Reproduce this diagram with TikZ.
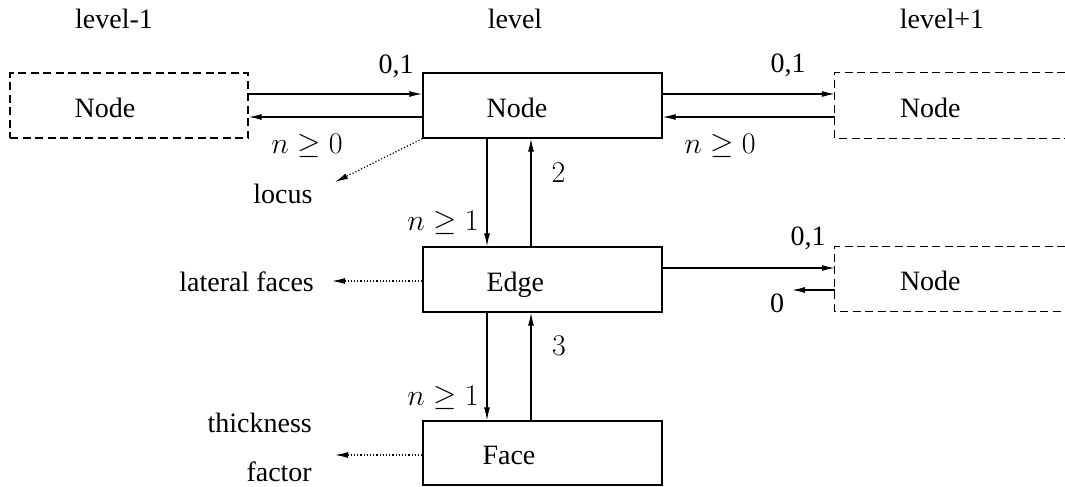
\RequirePackage{fix-cm}
\documentclass[tikz,border=0pt]{standalone}
\usepackage{fontspec}
\setmainfont{Liberation Serif}
\usetikzlibrary{arrows.meta}
\begin{document}
\begin{tikzpicture}[x=1pt,y=-1pt,
  every node/.style={font=\fontsize{28}{34}\selectfont},
  box/.style={draw, line width=1.3pt, minimum width=239pt, minimum height=65pt, inner sep=0pt},
  dbox/.style={box, dash pattern=on 8pt off 4.5pt},
  openbox/.style={minimum width=230pt, minimum height=65pt, inner sep=0pt},
  opendash/.style={line width=1.3pt, dash pattern=on 8pt off 4.5pt},
  boxtext/.style 2 args={label={[anchor=base west, xshift=#1, yshift=-11.5pt, inner sep=0pt]west:#2}},
  arr/.style={-{Latex[length=13pt,width=6pt]}, line width=1.2pt},
  dotarr/.style={arr, dotted},
  lbl/.style={anchor=base, inner sep=0pt},
  mlbl/.style={lbl, font=\fontsize{30}{36}\selectfont}
]
\useasboundingbox (0,0) rectangle (1065,487);

% headers
\node[lbl] (h1) at (114,29) {level-1};
\node[lbl] (h2) at (515,29) {level};
\node[lbl] (h3) at (942,29) {level+1};

% boxes
\node[dbox, minimum width=238pt, boxtext={65pt}{Node}] (L) at (129,105.5) {};
\node[box, boxtext={64pt}{Node}] (N) at (542.5,105.5) {};
\node[openbox, boxtext={65pt}{Node}] (R1) at (950,105.5) {};
\draw[opendash] (R1.north east) -- (R1.north west) -- (R1.south west) -- (R1.south east);
\node[box, boxtext={64pt}{Edge}] (E) at (542.5,279.5) {};
\node[openbox, minimum height=64pt, boxtext={65pt}{Node}] (R2) at (950,279) {};
\draw[opendash] (R2.north east) -- (R2.north west) -- (R2.south west) -- (R2.south east);
\node[box, minimum height=64pt, boxtext={60pt}{Face}] (F) at (542.5,453) {};

% horizontal arrows
\draw[arr] ([yshift=11.5pt]L.east) -- ([yshift=11.5pt]N.west);
\draw[arr] ([yshift=-11.5pt]N.west) -- ([yshift=-11.5pt]L.east);
\draw[arr] ([yshift=11.5pt]N.east) -- ([yshift=11.5pt]R1.west);
\draw[arr] ([yshift=-11.5pt]R1.west) -- ([yshift=-11.5pt]N.east);
\draw[arr] ([yshift=11.5pt]E.east) -- ([yshift=11.5pt]E.east -| R2.west);
\coordinate (zeroEnd) at (792,290);
\draw[arr] (R2.west |- zeroEnd) -- (zeroEnd);

% vertical arrows
\draw[arr] ([xshift=-55.5pt]N.south) -- ([xshift=-55.5pt]E.north);
\draw[arr] ([xshift=-11.5pt]E.north) -- ([xshift=-11.5pt]N.south);
\draw[arr] ([xshift=-55.5pt]E.south) -- ([xshift=-55.5pt]F.north);
\draw[arr] ([xshift=-11.5pt]F.north) -- ([xshift=-11.5pt]E.south);

% dotted arrows
\coordinate (locA) at (335,182);
\draw[dotarr] (N.south west) -- (locA);
\coordinate (latA) at (332,281);
\draw[dotarr] (E.west |- latA) -- (latA);
\coordinate (thA) at (335,455);
\draw[dotarr] (F.west |- thA) -- (thA);

% labels
\node[lbl] (l01a) at (396,74) {0,1};
\node[lbl] (l01b) at (788,73) {0,1};
\node[mlbl] (ln0a) at (307,153) {$n\geq 0$};
\node[mlbl] (ln0b) at (720,153) {$n\geq 0$};
\node[mlbl] (ln1a) at (443,230) {$n\geq 1$};
\node[mlbl] (ln1b) at (443,405) {$n\geq 1$};
\node[mlbl] (l2) at (558.5,182) {$2$};
\node[mlbl] (l3) at (559,355) {$3$};
\node[lbl] (l01c) at (808,245) {0,1};
\node[lbl] (l0) at (777,312) {0};
\node[lbl] (locus) at (283,203) {locus};
\node[anchor=base east, inner sep=0pt] (lat) at (314,291) {lateral faces};
\node[anchor=base east, inner sep=0pt] (thick) at (312,432) {thickness};
\node[anchor=base east, inner sep=0pt] (fact) at (312,481) {factor};
\end{tikzpicture}
\end{document}
